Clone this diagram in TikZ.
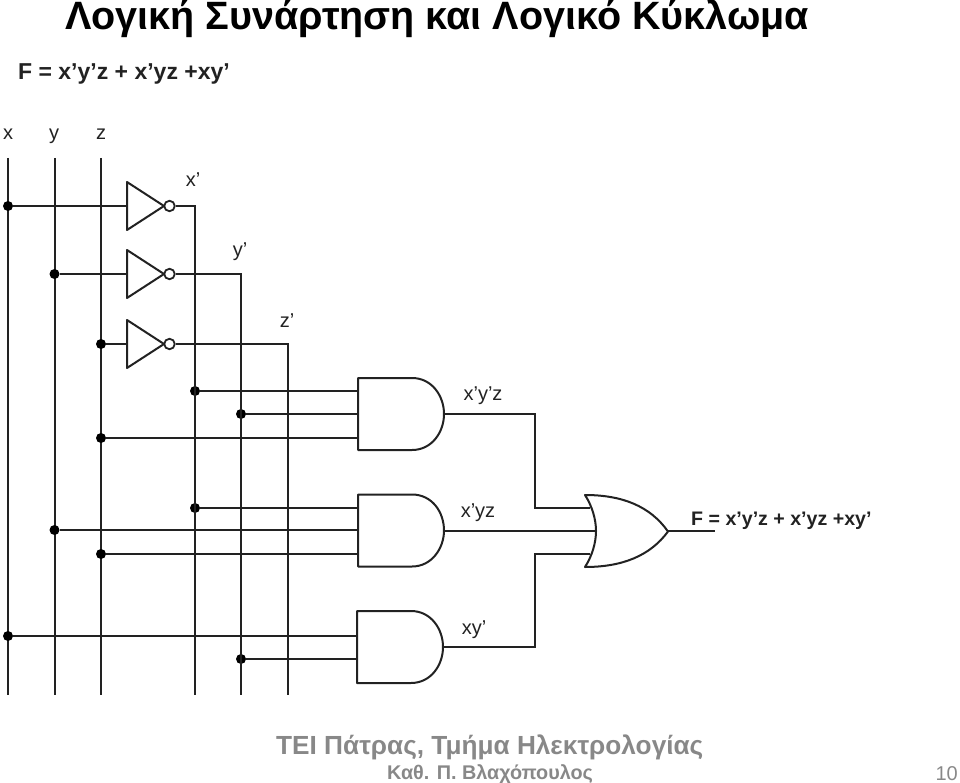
\documentclass[tikz,border=0pt]{standalone}
\usepackage{fontspec}
\setmainfont{Liberation Sans}
\definecolor{ink}{HTML}{222222}
\definecolor{foot}{HTML}{888888}
\tikzset{
  x=1pt,y=-1pt,
  wire/.style={draw=ink,line width=2pt},
  gate/.style={draw=ink,line width=2pt,fill=white,line join=round},
  dot/.style={circle,fill=black,inner sep=0pt,minimum size=10pt},
  bubble/.style={circle,draw=ink,line width=1.8pt,fill=white,inner sep=0pt,minimum size=10.5pt},
  lbl/.style={inner sep=0pt,anchor=base,font=\fontsize{20}{20}\selectfont,text=ink},
  footer/.style={inner sep=0pt,text=foot},
}
\begin{document}
\begin{tikzpicture}
\useasboundingbox (0,0) rectangle (960,783);
\node[inner sep=0pt,anchor=base west,font=\fontsize{39.5}{39.5}\selectfont\bfseries] (title) at (65,29.5) {Λογική Συνάρτηση και Λογικό Κύκλωμα};
\node[inner sep=0pt,anchor=base west,text=ink,font=\fontsize{23}{23}\selectfont\bfseries] (eq) at (18,80) {F = x’y’z + x’yz +xy’};
\node[lbl] (lx) at (8,140) {x};
\node[lbl] (ly) at (54,140) {y};
\node[lbl] (lz) at (101,140) {z};
\node[lbl] (lxp) at (193,187) {x’};
\node[lbl] (lyp) at (240,257) {y’};
\node[lbl] (lzp) at (287,327) {z’};
\node[lbl] (la1) at (483,400) {x’y’z};
\node[lbl] (la2) at (478,517) {x’yz};
\node[lbl] (la3) at (474,634) {xy’};
\node[inner sep=0pt,anchor=base west,text=ink,font=\fontsize{19.6}{19.6}\selectfont\bfseries] (out) at (691,525) {F = x’y’z + x’yz +xy’};
% input rails
\coordinate (xt) at (8,158); \coordinate (xb) at (8,695);
\coordinate (yt) at (54.5,158); \coordinate (yb) at (54.5,695);
\coordinate (zt) at (101,158); \coordinate (zb) at (101,695);
\coordinate (xpb) at (195,695);
\coordinate (ypb) at (241,695);
\coordinate (zpb) at (288,695);
\draw[wire] (xt)--(xb) (yt)--(yb) (zt)--(zb);
% junctions
\node[dot] (j1) at (8,206) {};
\node[dot] (j2) at (54.5,274) {};
\node[dot] (j3) at (101,344) {};
\node[dot] (j4) at (195,391) {};
\node[dot] (j5) at (241,414) {};
\node[dot] (j6) at (101,438) {};
\node[dot] (j7) at (195,508) {};
\node[dot] (j8) at (54.5,530) {};
\node[dot] (j9) at (101,554) {};
\node[dot] (j10) at (8,636) {};
\node[dot] (j11) at (241,659) {};
% inverters
\coordinate (n1i) at (127,206); \coordinate (n2i) at (127,274); \coordinate (n3i) at (127,344);
\node[bubble] (b1) at (169.5,206) {};
\node[bubble] (b2) at (169.5,274) {};
\node[bubble] (b3) at (169.5,344) {};
\draw[wire] (j1)--(n1i) (j2)--(n2i) (j3)--(n3i);
\draw[wire] (b1.east)--(195,206)--(xpb);
\draw[wire] (b2.east)--(241,274)--(ypb);
\draw[wire] (b3.east)--(288,344)--(zpb);
\draw[gate] (127,182)--(164,206)--(127,230)--cycle;
\draw[gate] (127,250)--(164,274)--(127,298)--cycle;
\draw[gate] (127,320)--(164,344)--(127,368)--cycle;
% OR output routes
\coordinate (a1o) at (444,414); \coordinate (a2o) at (444,531); \coordinate (a3o) at (443,647);
\coordinate (oi1) at (590,507.5); \coordinate (oi2) at (596,531); \coordinate (oi3) at (590,554);
\coordinate (oo) at (668,531); \coordinate (oe) at (715,531);
\draw[wire] (a1o)--(535,414)--(535,507.5)--(oi1);
\draw[wire] (a2o)--(oi2);
\draw[wire] (a3o)--(535,647)--(535,554)--(oi3);
\draw[wire] (oo)--(oe);
% AND inputs
\coordinate (a1a) at (358,391); \coordinate (a1b) at (358,414); \coordinate (a1c) at (358,438);
\coordinate (a2a) at (358,508); \coordinate (a2b) at (358,530); \coordinate (a2c) at (358,554);
\coordinate (a3a) at (357,636); \coordinate (a3b) at (357,659);
\draw[wire] (j4)--(a1a) (j5)--(a1b) (j6)--(a1c);
\draw[wire] (j7)--(a2a) (j8)--(a2b) (j9)--(a2c);
\draw[wire] (j10)--(a3a) (j11)--(a3b);
% AND gates
\draw[gate] (358,378)--(412,378) .. controls (432,378) and (444,396) .. (444,414) .. controls (444,432) and (432,450) .. (412,450)--(358,450)--cycle;
\draw[gate] (358,494.5)--(412,494.5) .. controls (432,494.5) and (444,512) .. (444,530.5) .. controls (444,548) and (432,566.5) .. (412,566.5)--(358,566.5)--cycle;
\draw[gate] (357,611)--(411,611) .. controls (431,611) and (443,629) .. (443,647) .. controls (443,665) and (431,683) .. (411,683)--(357,683)--cycle;
% OR gate
\draw[gate] (585,495) .. controls (592,506) and (596,519) .. (596,531) .. controls (596,543) and (592,556) .. (585,567) .. controls (622,567) and (650,556) .. (668,531.5) .. controls (650,506) and (622,495) .. (585,495) -- cycle;
% footer
\node[footer,anchor=base west,font=\fontsize{26.2}{26.2}\selectfont\bfseries] (f1) at (276,754) {ΤΕΙ Πάτρας, Τμήμα Ηλεκτρολογίας};
\node[footer,anchor=base west,font=\fontsize{19.8}{19.8}\selectfont\bfseries] (f2) at (387,779) {Καθ. Π. Βλαχόπουλος};
\node[footer,anchor=base east,font=\fontsize{20}{20}\selectfont] (f3) at (958,780.5) {10};
\end{tikzpicture}
\end{document}
